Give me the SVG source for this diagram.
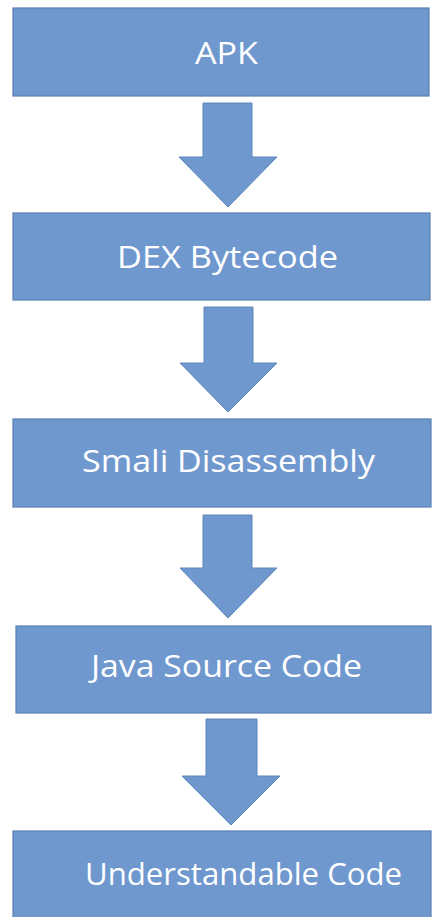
<svg xmlns="http://www.w3.org/2000/svg" width="433" height="917" viewBox="0 0 433 917">
<style>
.box{fill:#6f98cf;stroke:#5a7fb3;stroke-width:1.2}
.arr{fill:#6f98cf;stroke:#5f86bb;stroke-width:1}
.t{font-family:"Open Sans","Noto Sans",sans-serif;font-size:31px;fill:#ffffff;text-anchor:start}
</style>
<rect width="433" height="917" fill="#ffffff"/>
<g id="connectors">
<polygon class="arr" points="203,103 252,103 252,157 277,157 228,207 179,157 203,157"/>
<polygon class="arr" points="204,307 253,307 253,363 277,363 228,412 180,363 204,363"/>
<polygon class="arr" points="203,515 252,515 252,568 277,568 228,618 180,568 203,568"/>
<polygon class="arr" points="206,719 257,719 257,776 280,776 231,825 182,776 206,776"/>
</g>
<g id="node-apk">
<rect class="box" x="13" y="8" width="416" height="88"/>
<text class="t" x="195" y="64" textLength="63" lengthAdjust="spacingAndGlyphs">APK</text>
</g>
<g id="node-dex">
<rect class="box" x="13" y="213" width="417" height="87"/>
<text class="t" x="117" y="268" textLength="221" lengthAdjust="spacingAndGlyphs">DEX Bytecode</text>
</g>
<g id="node-smali">
<rect class="box" x="13" y="419" width="418" height="88"/>
<text class="t" x="82" y="472" textLength="293" lengthAdjust="spacingAndGlyphs">Smali Disassembly</text>
</g>
<g id="node-java">
<rect class="box" x="16" y="626" width="415" height="87"/>
<text class="t" x="91" y="677" textLength="271" lengthAdjust="spacingAndGlyphs">Java Source Code</text>
</g>
<g id="node-understandable">
<rect class="box" x="13" y="831" width="418" height="90"/>
<text class="t" x="85" y="885" textLength="317" lengthAdjust="spacingAndGlyphs">Understandable Code</text>
</g>
</svg>
